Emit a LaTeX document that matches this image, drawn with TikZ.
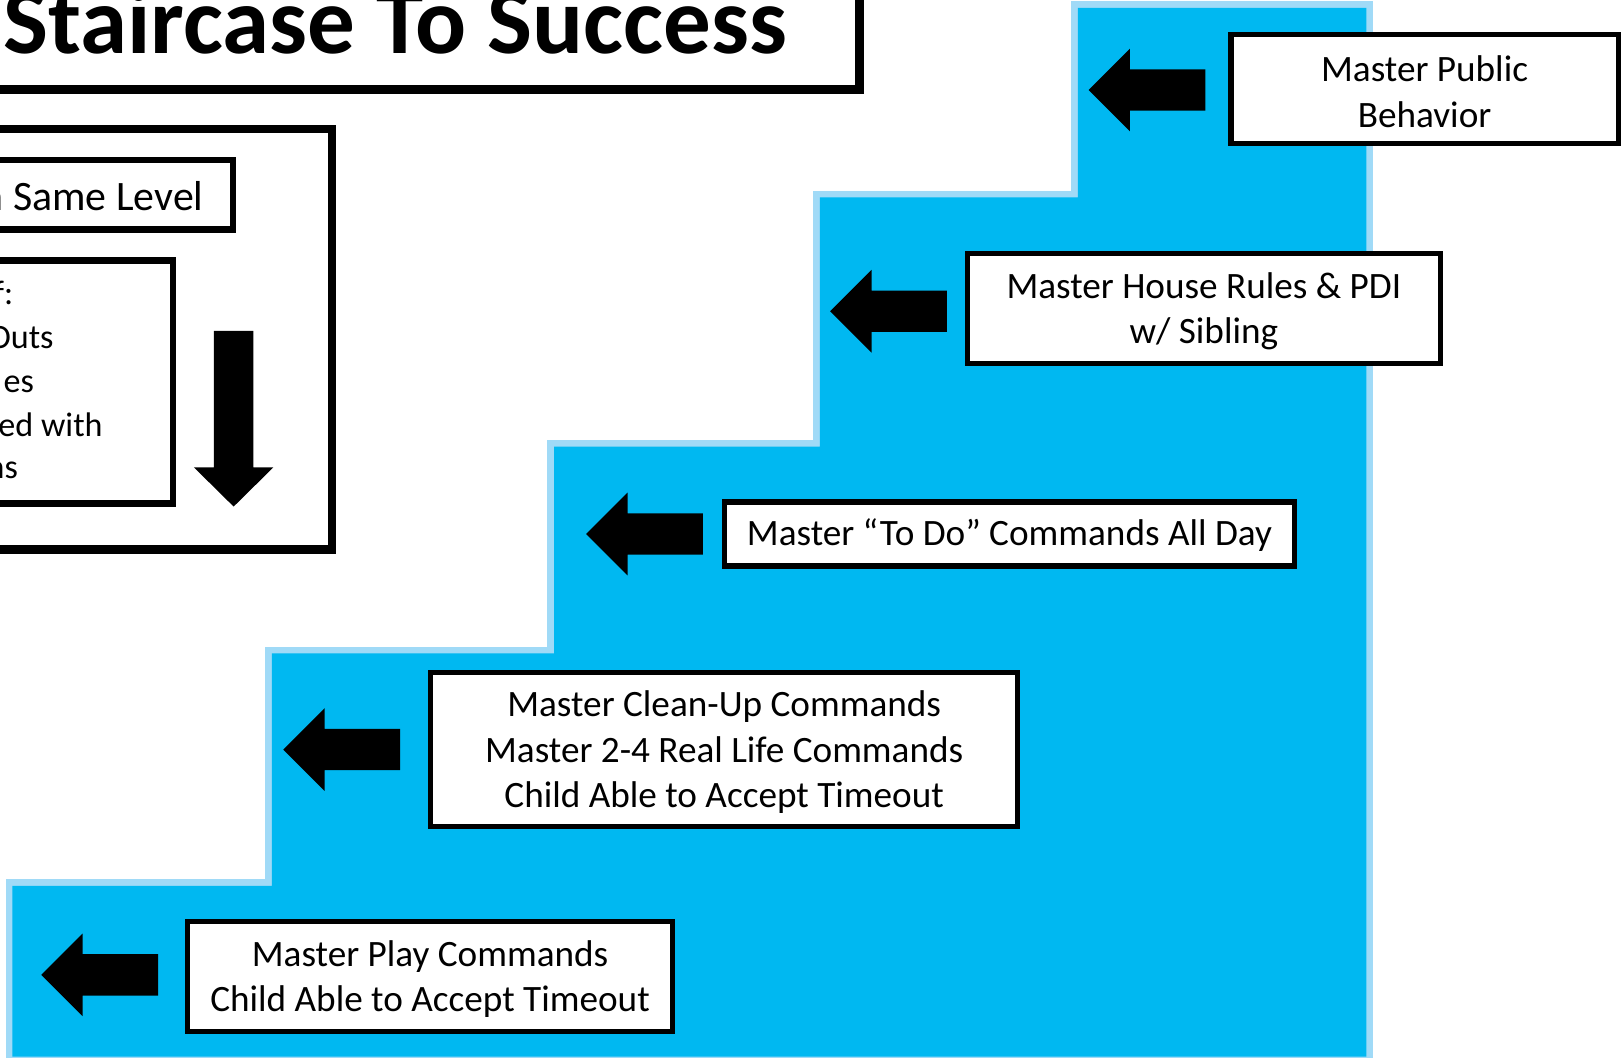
\documentclass[tikz,border=0pt]{standalone}
\usepackage{fontspec}
\setmainfont{Carlito}
\definecolor{stair}{RGB}{0,184,241}
\definecolor{halo}{RGB}{160,218,247}
\begin{document}
\begin{tikzpicture}[x=1pt,y=-1pt,
  stepbox/.style={draw=black, fill=white, line width=5pt, inner sep=0pt},
  steptext/.style={inner sep=0pt, align=center, yshift=-2.5pt, font=\fontsize{36}{44}\selectfont},
  lefttext/.style={anchor=base east, inner sep=0pt, font=\fontsize{33}{38}\selectfont},
  cutbox/.style={draw=black, line width=#1},
  larrow/.pic={\fill[black] (0,0) -- (40,-40) -- (40,-20) -- (113,-20) -- (113,20) -- (40,20) -- (40,40) -- cycle;}
]
\useasboundingbox (0,0) rectangle (1568,1023.4);
\clip (0,0) rectangle (1568,1023.4);

% staircase
\def\stairpath{(12,1022) -- (12,857) -- (263,857) -- (263,632) -- (536,632) -- (536,432) -- (793,432) -- (793,191) -- (1042.5,191) -- (1042.5,7.7) -- (1321.6,7.7) -- (1321.6,1022) -- cycle}
\draw[halo, line width=13pt] \stairpath;
\fill[stair] \stairpath;

% title
\draw[cutbox=9pt] (-20,86.5) -- (831.5,86.5) -- (831.5,-20);
\node[anchor=base west, inner sep=0pt, font=\bfseries\fontsize{92}{100}\selectfont] (title) at (2.8,51.6) {Staircase To Success};

% left panel
\draw[cutbox=8pt] (-20,125) -- (321,125) -- (321,531.5) -- (-20,531.5);
\draw[cutbox=6pt] (-20,155) -- (225,155) -- (225,222) -- (-20,222);
\node[anchor=base east, inner sep=0pt, font=\fontsize{40.5}{48}\selectfont] (same) at (197,204) {n Same Level};
\draw[cutbox=6pt] (-20,252) -- (167,252) -- (167,487) -- (-20,487);
\node[lefttext] (l1) at (13,295) {f:};
\node[lefttext] (l2) at (52,336.7) {Outs};
\node[lefttext] (l3) at (33,379.4) {es};
\node[lefttext] (l4) at (99.5,422.3) {ed with};
\node[lefttext] (l5) at (17.5,463) {ns};
\fill[black] (207,320) -- (245,320) -- (245,452) -- (264.5,452) -- (226,490) -- (187.5,452) -- (207,452) -- cycle;

% step boxes
\node[stepbox, minimum width=469pt, minimum height=106pt] (b1) at (416,944.5) {};
\node[steptext] (t1) at (b1.center) {Master Play Commands\\Child Able to Accept Timeout};
\node[stepbox, minimum width=568pt, minimum height=149pt] (b2) at (700.5,725) {};
\node[steptext] (t2) at (b2.center) {Master Clean-Up Commands\\Master 2-4 Real Life Commands\\Child Able to Accept Timeout};
\node[stepbox, minimum width=552pt, minimum height=62pt] (b3) at (976.5,516.5) {};
\node[steptext, yshift=1pt] (t3) at (b3.center) {Master “To Do” Commands All Day};
\node[stepbox, minimum width=458pt, minimum height=107pt] (b4) at (1164.5,298.5) {};
\node[steptext] (t4) at (b4.center) {Master House Rules \& PDI\\w/ Sibling};
\node[stepbox, minimum width=374.5pt, minimum height=106pt] (b5) at (1378,86.2) {};
\node[steptext] (t5) at (b5.center) {Master Public\\Behavior};

% arrows
\pic at (40,943) {larrow};
\pic at (274,725) {larrow};
\pic at (567,516.5) {larrow};
\pic at (803,301) {larrow};
\pic at (1053,87) {larrow};
\end{tikzpicture}
\end{document}
